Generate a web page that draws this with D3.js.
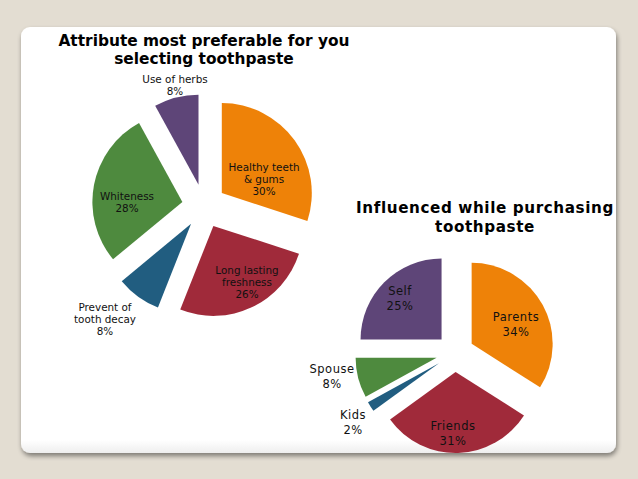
<!DOCTYPE html>
<html><head><meta charset="utf-8">
<script src="https://cdn.jsdelivr.net/npm/d3@7"></script>
<style>body{margin:0;background:#e3ddd2;}svg{display:block;}</style>
</head><body>
<svg id="c" width="638" height="479"></svg>
<script>
// Data
const attrCategories = ["Healthy teeth\n& gums", "Long lasting\nfreshness", "Prevent of\ntooth decay", "Whiteness", "Use of herbs"];
const attrValues = [30, 26, 8, 28, 8];
const inflCategories = ["Parents", "Friends", "Kids", "Spouse", "Self"];
const inflValues = [34, 31, 2, 8, 25];
const sliceColors = ["#ee8208", "#a02a3a", "#215d80", "#4e8a3e", "#5e4578"];

const svg = d3.select("#c");
const defs = svg.append("defs");
const f = defs.append("filter").attr("id","sh").attr("x","-5%").attr("y","-5%").attr("width","110%").attr("height","115%");
f.append("feGaussianBlur").attr("in","SourceAlpha").attr("stdDeviation",2.5);
f.append("feOffset").attr("dx",1).attr("dy",3).attr("result","b");
f.append("feComponentTransfer").append("feFuncA").attr("type","linear").attr("slope",0.45);
const m = f.append("feMerge"); m.append("feMergeNode"); m.append("feMergeNode").attr("in","SourceGraphic");
const g = defs.append("linearGradient").attr("id","cg").attr("x1",0).attr("y1",0).attr("x2",0).attr("y2",1);
g.append("stop").attr("offset","0.97").attr("stop-color","#ffffff");
g.append("stop").attr("offset","1").attr("stop-color","#eeeeee");

svg.append("rect").attr("x",21).attr("y",27).attr("width",595).attr("height",426).attr("rx",9)
  .attr("fill","url(#cg)").attr("filter","url(#sh)");

function drawPie(cats, vals, cx, cy, r, explode, fontSize, lineH, labelPos, ls) {
  const pie = d3.pie().sort(null).value(d => d)(vals);
  const arc = d3.arc().innerRadius(0).outerRadius(r);
  const grp = svg.append("g").attr("transform", `translate(${cx},${cy})`);
  pie.forEach((p, i) => {
    const mid = (p.startAngle + p.endAngle) / 2;
    const dx = Math.sin(mid) * explode, dy = -Math.cos(mid) * explode;
    grp.append("path").attr("d", arc(p)).attr("fill", sliceColors[i])
      .attr("transform", `translate(${dx},${dy})`);
  });
  cats.forEach((c, i) => {
    const lines = (c + "\n" + vals[i] + "%").split("\n");
    const [lx, ly] = labelPos[i];
    const t = svg.append("text").attr("x", lx).attr("y", ly - (lines.length - 1) * lineH / 2)
      .attr("text-anchor", "middle").attr("font-family", "DejaVu Sans, Verdana, sans-serif")
      .attr("font-size", fontSize).attr("letter-spacing", ls).attr("fill", "#111");
    lines.forEach((l, j) => t.append("tspan").attr("x", lx).attr("dy", j === 0 ? "0.35em" : lineH).text(l));
  });
}

drawPie(attrCategories, attrValues, 204, 206, 90, 22, 10.4, 12,
  [[264,179],[247,282],[105,319],[127,202],[175,85]], 0);
drawPie(inflCategories, inflValues, 455, 353, 81, 19, 11.5, 15,
  [[516,324],[453,433],[353,422],[332,376],[400,298]], 0.5);

function title(lines, x, y, lh, fs, ls) {
  const t = svg.append("text").attr("text-anchor","middle").attr("font-family","DejaVu Sans, Verdana, sans-serif")
    .attr("font-weight","bold").attr("font-size",fs).attr("letter-spacing",ls).attr("fill","#000");
  lines.forEach((l,j)=>t.append("tspan").attr("x",x).attr("y",y+j*lh).text(l));
}
title(["Attribute most preferable for you","selecting toothpaste"], 204, 46, 18, 15.4, 0);
title(["Influenced while purchasing","toothpaste"], 485, 213, 19, 15.2, 0.6);
</script>
</body></html>
